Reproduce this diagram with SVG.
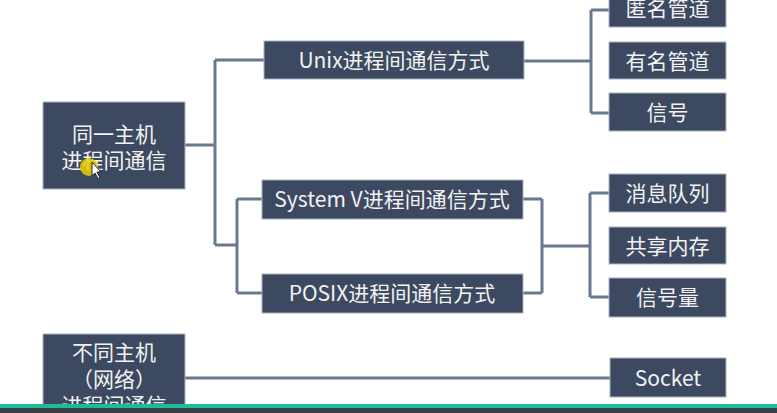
<svg xmlns="http://www.w3.org/2000/svg" width="777" height="413" viewBox="0 0 777 413">
<style>
.box{fill:#3d4960;stroke:#a9b2c0;stroke-width:1}
.t{fill:#f2f2f2;font-family:"Noto Sans CJK SC","Noto Sans",sans-serif;font-size:21px;text-anchor:middle}
.ln{fill:none;stroke:#687891;stroke-width:3}
</style>
<rect width="777" height="413" fill="#ffffff"/>
<g id="connectors">
<path class="ln" d="M185 145 H215 M215 60 V245 M215 60 H264 M215 245 H237 M237 199 V293 M237 199 H262 M237 293 H262"/>
<path class="ln" d="M524 61 H591 M591 10 V113 M591 10 H609 M591 113 H609"/>
<path class="ln" d="M523 199 H542 M523 293 H542 M542 199 V293 M542 246 H590 M590 193 V297 M590 193 H609 M590 297 H609"/>
<path class="ln" d="M185 378 H610"/>
</g>
<g id="n-same-host"><rect class="box" x="43" y="102" width="142" height="87"/><text class="t" x="114" y="142">同一主机</text><text class="t" x="114" y="168">进程间通信</text></g>
<g id="n-unix"><rect class="box" x="264" y="41" width="260" height="38"/><text class="t" x="394" y="68">Unix进程间通信方式</text></g>
<g id="n-sysv"><rect class="box" x="262" y="180" width="261" height="39"/><text class="t" x="392" y="207">System V进程间通信方式</text></g>
<g id="n-posix"><rect class="box" x="262" y="274" width="261" height="39"/><text class="t" x="392" y="301">POSIX进程间通信方式</text></g>
<g id="n-anon"><rect class="box" x="609" y="-11" width="117" height="38"/><text class="t" x="667.5" y="16">匿名管道</text></g>
<g id="n-named"><rect class="box" x="609" y="42" width="117" height="37"/><text class="t" x="667.5" y="69">有名管道</text></g>
<g id="n-signal"><rect class="box" x="609" y="93" width="117" height="38"/><text class="t" x="667.5" y="120">信号</text></g>
<g id="n-mq"><rect class="box" x="609" y="174" width="117" height="38"/><text class="t" x="667.5" y="201">消息队列</text></g>
<g id="n-shm"><rect class="box" x="609" y="227" width="117" height="37"/><text class="t" x="667.5" y="254">共享内存</text></g>
<g id="n-sem"><rect class="box" x="609" y="278" width="117" height="39"/><text class="t" x="667.5" y="305">信号量</text></g>
<g id="n-diff-host"><rect class="box" x="43" y="334" width="142" height="90"/><text class="t" x="114" y="360">不同主机</text><text class="t" x="114" y="387">（网络）</text><text class="t" x="114" y="413">进程间通信</text></g>
<g id="n-socket"><rect class="box" x="610" y="358" width="116" height="39"/><text class="t" x="668" y="386">Socket</text></g>
<g id="cursor">
<circle cx="89" cy="167" r="9" fill="#e8d000" opacity="0.85"/>
<path d="M92 162 L92 176 L95 173 L98 179 L100 178 L97 172 L101 172 Z" fill="#ffffff" stroke="#222" stroke-width="1"/>
</g>
<rect x="0" y="404" width="777" height="4" fill="#1abc9c"/>
<rect x="0" y="408" width="777" height="5" fill="#3c3f44"/>
</svg>
